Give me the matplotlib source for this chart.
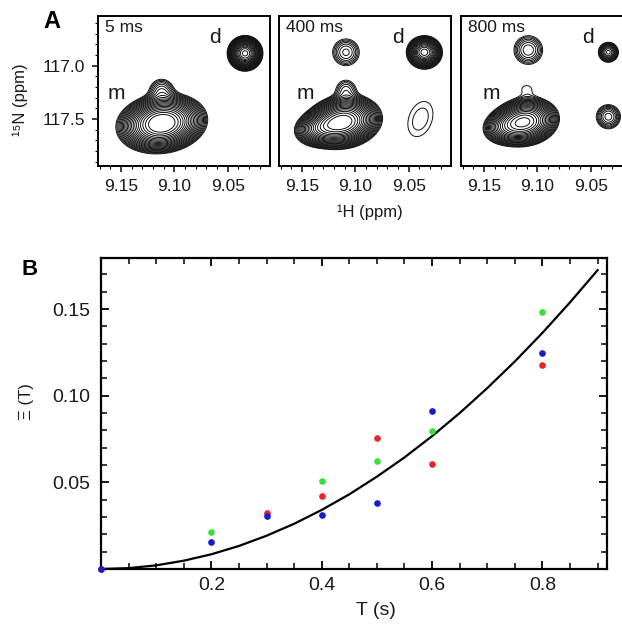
import numpy as np
import matplotlib
matplotlib.use('Agg')
import matplotlib.pyplot as plt
from matplotlib.ticker import MultipleLocator, FixedLocator, FormatStrFormatter

plt.rcParams['font.family'] = ['Liberation Sans', 'DejaVu Sans']

# ---------------- Panel A data (NMR peaks) ----------------
panel_titles = ['5 ms', '400 ms', '800 ms']
# peak parameters: 1H centre (ppm), 15N centre (ppm), width along u, width along v, angle (deg), amplitude
peaks_5ms = [
    (9.1118, 117.540, 15.0, 9.8, 8, 65.0),   # m
    (9.1120, 117.235, 7.5, 7.5, 0, 2.8),     # shoulder above m
    (9.0337, 116.884, 6.0, 6.0, 0, 50.0),    # d
]
peaks_400ms = [
    (9.1113, 117.525, 13.0, 9.0, 10, 55.0),  # m
    (9.1301, 117.581, 11.0, 7.0, 10, 20.0),  # m (left tail)
    (9.1088, 117.225, 7.0, 7.0, 0, 2.2),     # shoulder above m
    (9.1088, 116.874, 8.2, 8.2, 0, 3.2),     # cross peak m->d
    (9.0353, 116.874, 6.5, 6.0, 0, 30.0),    # d
    (9.0390, 117.500, 22.0, 14.0, 70, 1.35), # cross peak d->m
]
peaks_800ms = [
    (9.1116, 117.525, 12.0, 8.5, 10, 40.0),  # m
    (9.1280, 117.570, 10.0, 7.0, 10, 12.0),  # m (left tail)
    (9.1100, 117.215, 8.0, 6.0, 0, 1.1),     # shoulder above m
    (9.1085, 116.853, 8.5, 8.5, 0, 3.5),     # cross peak m->d
    (9.0334, 116.874, 4.6, 4.6, 0, 8.0),     # d
    (9.0334, 117.478, 6.8, 6.8, 0, 4.0),     # cross peak d->m
]
panel_peaks = [peaks_5ms, peaks_400ms, peaks_800ms]
contour_base = 1.0
contour_factor = 1.2
contour_count = 22
h_ticks = [9.15, 9.10, 9.05]
n_ticks = [117.0, 117.5]

# ---------------- Panel B data ----------------
red_T = [0.0, 0.3, 0.4, 0.5, 0.6, 0.8]
red_xi = [0.0, 0.0322, 0.0424, 0.0755, 0.0605, 0.118]
green_T = [0.2, 0.4, 0.5, 0.6, 0.8]
green_xi = [0.0212, 0.0509, 0.0624, 0.0794, 0.1482]
blue_T = [0.0, 0.2, 0.3, 0.4, 0.5, 0.6, 0.8]
blue_xi = [0.0, 0.0154, 0.0306, 0.0312, 0.0383, 0.0913, 0.1249]
fit_T = [0.0, 0.05, 0.1, 0.15, 0.2, 0.25, 0.3, 0.35, 0.4, 0.45, 0.5, 0.55, 0.6,
         0.65, 0.7, 0.75, 0.8, 0.85, 0.9]
fit_xi = [0.0, 0.0005, 0.0021, 0.0048, 0.0085, 0.0133, 0.0192, 0.0261, 0.0341,
          0.0431, 0.0533, 0.0644, 0.0767, 0.0900, 0.1044, 0.1198, 0.1363, 0.1539, 0.1725]
b_xticks = [0.2, 0.4, 0.6, 0.8]
b_yticks = [0.05, 0.10, 0.15]

# ---------------- figure ----------------
W, H = 622, 625
fig = plt.figure(figsize=(W / 100, H / 100), dpi=100)


def spectrum(Hg, Ng, peaks):
    Z = np.zeros_like(Hg)
    for h0, n0, su, sv, ang, amp in peaks:
        sx = -(Hg - h0) * 1000.0
        sy = -(Ng - n0) * 100.0
        a = np.deg2rad(ang)
        u = np.cos(a) * sx + np.sin(a) * sy
        v = -np.sin(a) * sx + np.cos(a) * sy
        Z += amp * np.exp(-(u ** 2 / (2 * su ** 2) + v ** 2 / (2 * sv ** 2)))
    return Z


hgrid = np.linspace(8.99, 9.19, 500)
ngrid = np.linspace(116.45, 118.0, 500)
HG, NG = np.meshgrid(hgrid, ngrid)
levels = contour_base * contour_factor ** np.arange(contour_count)

lefts = [98, 279, 461]
d_pos = [(0.68, 0.855), (0.694, 0.855), (0.74, 0.855)]
m_pos = [(0.109, 0.485), (0.151, 0.485), (0.178, 0.485)]
txtc = '#1a1a1a'
for i, left in enumerate(lefts):
    ax = fig.add_axes([left / W, 1 - 166 / H, 172 / W, 150 / H])
    Z = spectrum(HG, NG, panel_peaks[i])
    ax.contour(HG, NG, Z, levels=levels, colors='#111111', linewidths=0.7)
    ax.set_xlim(9.1716, 9.0103)
    ax.set_ylim(117.94, 116.534)
    for s in ax.spines.values():
        s.set_linewidth(1.4)
    ax.xaxis.set_major_locator(FixedLocator(h_ticks))
    ax.xaxis.set_major_formatter(FormatStrFormatter('%.2f'))
    ax.xaxis.set_minor_locator(MultipleLocator(0.01))
    ax.tick_params(axis='x', which='major', direction='out', length=4, width=1.2,
                   labelsize=12.5, pad=5, colors=txtc)
    ax.tick_params(axis='x', which='minor', direction='out', length=2, width=0.8)
    if i == 0:
        ax.yaxis.set_major_locator(FixedLocator(n_ticks))
        ax.yaxis.set_major_formatter(FormatStrFormatter('%.1f'))
        ax.yaxis.set_minor_locator(MultipleLocator(0.1))
        ax.tick_params(axis='y', which='major', direction='out', length=4, width=1.2,
                       labelsize=12.5, pad=5, colors=txtc)
        ax.tick_params(axis='y', which='minor', direction='out', length=2, width=0.8)
    else:
        ax.set_yticks([])
    ax.text(0.04, 0.975, panel_titles[i], transform=ax.transAxes, ha='left', va='top',
            fontsize=12.5, color=txtc)
    ax.text(*d_pos[i], 'd', transform=ax.transAxes, ha='center', va='center',
            fontsize=15, color=txtc)
    ax.text(*m_pos[i], 'm', transform=ax.transAxes, ha='center', va='center',
            fontsize=15, color=txtc)

fig.text(20 / W, 1 - 100 / H, '¹⁵N (ppm)', rotation=90, ha='center', va='center',
         fontsize=12, color=txtc)
fig.text(370 / W, 1 - 212 / H, '¹H (ppm)', ha='center', va='center',
         fontsize=12, color=txtc)
fig.text(52 / W, 1 - 22 / H, 'A', ha='center', va='center', fontsize=17,
         fontweight='bold', color='black')
fig.text(30 / W, 1 - 270 / H, 'B', ha='center', va='center', fontsize=16,
         fontweight='bold', color='black')

# ---------------- Panel B ----------------
bx = fig.add_axes([101 / W, 1 - 569 / H, 506 / W, 311 / H])
bx.plot(fit_T, fit_xi, color='black', lw=1.6, zorder=2)
bx.plot(red_T, red_xi, 'o', color='#e8262a', ms=4.8, mec='none', clip_on=False, zorder=3)
bx.plot(green_T, green_xi, 'o', color='#38e03a', ms=4.8, mec='none', clip_on=False, zorder=3)
bx.plot(blue_T, blue_xi, 'o', color='#1a1acc', ms=4.8, mec='none', clip_on=False, zorder=3)
bx.set_xlim(0.0, 0.917)
bx.set_ylim(0.0, 0.1795)
for s in bx.spines.values():
    s.set_linewidth(1.6)
bx.xaxis.set_major_locator(FixedLocator(b_xticks))
bx.xaxis.set_major_formatter(FormatStrFormatter('%.1f'))
bx.xaxis.set_minor_locator(MultipleLocator(0.05))
bx.yaxis.set_major_locator(FixedLocator(b_yticks))
bx.yaxis.set_major_formatter(FormatStrFormatter('%.2f'))
bx.yaxis.set_minor_locator(MultipleLocator(0.01))
bx.tick_params(which='both', direction='in', top=True, right=True, colors='black',
               labelcolor=txtc)
bx.tick_params(which='major', length=6, width=1.3, labelsize=14)
bx.tick_params(axis='x', which='major', pad=6)
bx.tick_params(axis='y', which='major', pad=8)
bx.tick_params(which='minor', length=4, width=1.1)
bx.set_xlabel('T (s)', fontsize=14, color=txtc)
bx.xaxis.set_label_coords(0.543, -0.105)
bx.set_ylabel('Ξ (T)', fontsize=12, color=txtc)
bx.yaxis.set_label_coords(-0.133, 0.539)

fig.savefig('out.png', dpi=100)
